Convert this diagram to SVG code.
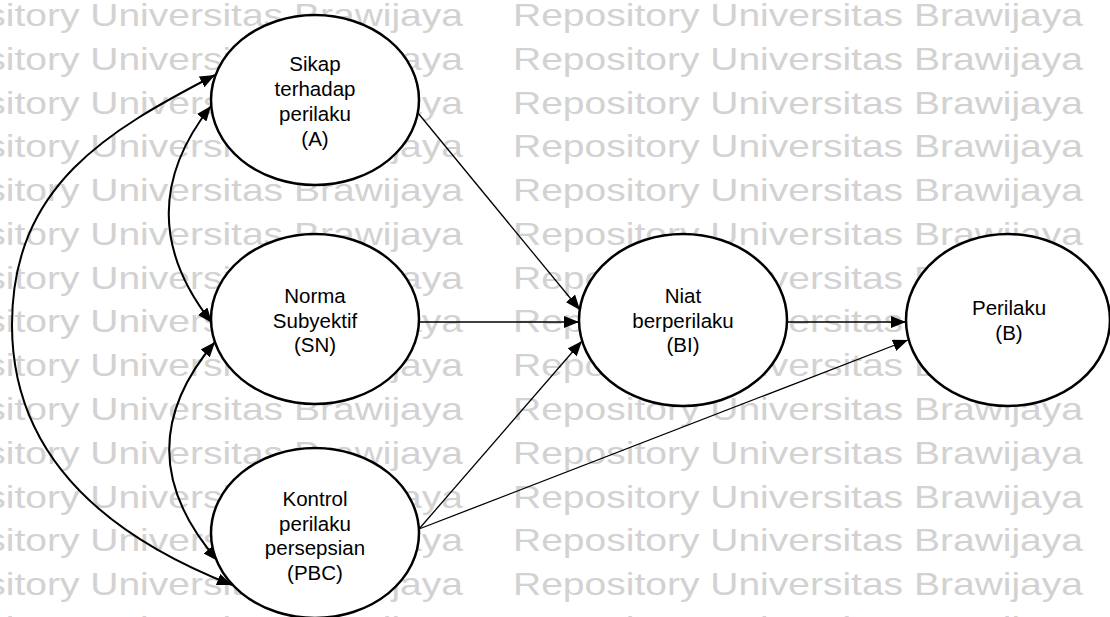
<svg xmlns="http://www.w3.org/2000/svg" width="1110" height="617" viewBox="0 0 1110 617">
<style>
.wm{font-family:"Liberation Sans",Arial,sans-serif;font-size:32px;fill:#d2d2d2}
.node ellipse{fill:#fff;stroke:#000;stroke-width:2.5}
.node text{font-family:"Liberation Sans",Arial,sans-serif;font-size:20.5px;fill:#000;text-anchor:middle}
.ln{fill:none;stroke:#000;stroke-width:1.3}
.cv{fill:none;stroke:#000;stroke-width:2}
</style>
<defs>
<marker id="ah" viewBox="0 0 15 12" refX="15" refY="6" markerWidth="15" markerHeight="12" markerUnits="userSpaceOnUse" orient="auto-start-reverse">
<path d="M0,0 L15,6 L0,12 z" fill="#000"/>
</marker>
</defs>
<rect width="1110" height="617" fill="#fff"/>
<g id="watermark">
<text class="wm" x="-107" y="26" textLength="570" lengthAdjust="spacingAndGlyphs">Repository Universitas Brawijaya</text>
<text class="wm" x="513" y="26" textLength="570" lengthAdjust="spacingAndGlyphs">Repository Universitas Brawijaya</text>
<text class="wm" x="-107" y="69.8" textLength="570" lengthAdjust="spacingAndGlyphs">Repository Universitas Brawijaya</text>
<text class="wm" x="513" y="69.8" textLength="570" lengthAdjust="spacingAndGlyphs">Repository Universitas Brawijaya</text>
<text class="wm" x="-107" y="113.5" textLength="570" lengthAdjust="spacingAndGlyphs">Repository Universitas Brawijaya</text>
<text class="wm" x="513" y="113.5" textLength="570" lengthAdjust="spacingAndGlyphs">Repository Universitas Brawijaya</text>
<text class="wm" x="-107" y="157.3" textLength="570" lengthAdjust="spacingAndGlyphs">Repository Universitas Brawijaya</text>
<text class="wm" x="513" y="157.3" textLength="570" lengthAdjust="spacingAndGlyphs">Repository Universitas Brawijaya</text>
<text class="wm" x="-107" y="201.1" textLength="570" lengthAdjust="spacingAndGlyphs">Repository Universitas Brawijaya</text>
<text class="wm" x="513" y="201.1" textLength="570" lengthAdjust="spacingAndGlyphs">Repository Universitas Brawijaya</text>
<text class="wm" x="-107" y="244.9" textLength="570" lengthAdjust="spacingAndGlyphs">Repository Universitas Brawijaya</text>
<text class="wm" x="513" y="244.9" textLength="570" lengthAdjust="spacingAndGlyphs">Repository Universitas Brawijaya</text>
<text class="wm" x="-107" y="288.6" textLength="570" lengthAdjust="spacingAndGlyphs">Repository Universitas Brawijaya</text>
<text class="wm" x="513" y="288.6" textLength="570" lengthAdjust="spacingAndGlyphs">Repository Universitas Brawijaya</text>
<text class="wm" x="-107" y="332.4" textLength="570" lengthAdjust="spacingAndGlyphs">Repository Universitas Brawijaya</text>
<text class="wm" x="513" y="332.4" textLength="570" lengthAdjust="spacingAndGlyphs">Repository Universitas Brawijaya</text>
<text class="wm" x="-107" y="376.2" textLength="570" lengthAdjust="spacingAndGlyphs">Repository Universitas Brawijaya</text>
<text class="wm" x="513" y="376.2" textLength="570" lengthAdjust="spacingAndGlyphs">Repository Universitas Brawijaya</text>
<text class="wm" x="-107" y="419.9" textLength="570" lengthAdjust="spacingAndGlyphs">Repository Universitas Brawijaya</text>
<text class="wm" x="513" y="419.9" textLength="570" lengthAdjust="spacingAndGlyphs">Repository Universitas Brawijaya</text>
<text class="wm" x="-107" y="463.7" textLength="570" lengthAdjust="spacingAndGlyphs">Repository Universitas Brawijaya</text>
<text class="wm" x="513" y="463.7" textLength="570" lengthAdjust="spacingAndGlyphs">Repository Universitas Brawijaya</text>
<text class="wm" x="-107" y="507.5" textLength="570" lengthAdjust="spacingAndGlyphs">Repository Universitas Brawijaya</text>
<text class="wm" x="513" y="507.5" textLength="570" lengthAdjust="spacingAndGlyphs">Repository Universitas Brawijaya</text>
<text class="wm" x="-107" y="551.2" textLength="570" lengthAdjust="spacingAndGlyphs">Repository Universitas Brawijaya</text>
<text class="wm" x="513" y="551.2" textLength="570" lengthAdjust="spacingAndGlyphs">Repository Universitas Brawijaya</text>
<text class="wm" x="-107" y="595" textLength="570" lengthAdjust="spacingAndGlyphs">Repository Universitas Brawijaya</text>
<text class="wm" x="513" y="595" textLength="570" lengthAdjust="spacingAndGlyphs">Repository Universitas Brawijaya</text>
<text class="wm" x="-107" y="638.8" textLength="570" lengthAdjust="spacingAndGlyphs">Repository Universitas Brawijaya</text>
<text class="wm" x="513" y="638.8" textLength="570" lengthAdjust="spacingAndGlyphs">Repository Universitas Brawijaya</text>
</g>
<g id="connectors">
<path class="cv" d="M215,75 C108.6,130.4 12,185 12,325 C12,465 120.3,541.2 232,585" marker-start="url(#ah)" marker-end="url(#ah)"/>
<path class="cv" d="M211,106 Q126,214 212,323" marker-start="url(#ah)" marker-end="url(#ah)"/>
<path class="cv" d="M215,342 Q122,451 218,561" marker-start="url(#ah)" marker-end="url(#ah)"/>
<path class="ln" d="M418,113 L580,310" marker-end="url(#ah)"/>
<path class="ln" d="M419,322 L579,322" marker-end="url(#ah)"/>
<path class="ln" d="M419,529 L582,341" marker-end="url(#ah)"/>
<path class="ln" d="M787,322 L906,322" marker-end="url(#ah)"/>
<path class="ln" d="M419,529 L908,340" marker-end="url(#ah)"/>
</g>
<g id="node-A" class="node">
<ellipse cx="315" cy="100" rx="104" ry="85"/>
<text x="315" y="71">Sikap</text>
<text x="315" y="96">terhadap</text>
<text x="315" y="121">perilaku</text>
<text x="315" y="146">(A)</text>
</g>
<g id="node-SN" class="node">
<ellipse cx="315" cy="319" rx="104" ry="85"/>
<text x="315" y="303">Norma</text>
<text x="315" y="327.5">Subyektif</text>
<text x="315" y="352">(SN)</text>
</g>
<g id="node-PBC" class="node">
<ellipse cx="315" cy="533" rx="104" ry="85"/>
<text x="315" y="506">Kontrol</text>
<text x="315" y="530.5">perilaku</text>
<text x="315" y="555">persepsian</text>
<text x="315" y="579.5">(PBC)</text>
</g>
<g id="node-BI" class="node">
<ellipse cx="683" cy="320" rx="104" ry="86"/>
<text x="683" y="303">Niat</text>
<text x="683" y="327.5">berperilaku</text>
<text x="683" y="352">(BI)</text>
</g>
<g id="node-B" class="node">
<ellipse cx="1008" cy="320" rx="102" ry="86"/>
<text x="1009" y="315">Perilaku</text>
<text x="1009" y="339.5">(B)</text>
</g>
</svg>
